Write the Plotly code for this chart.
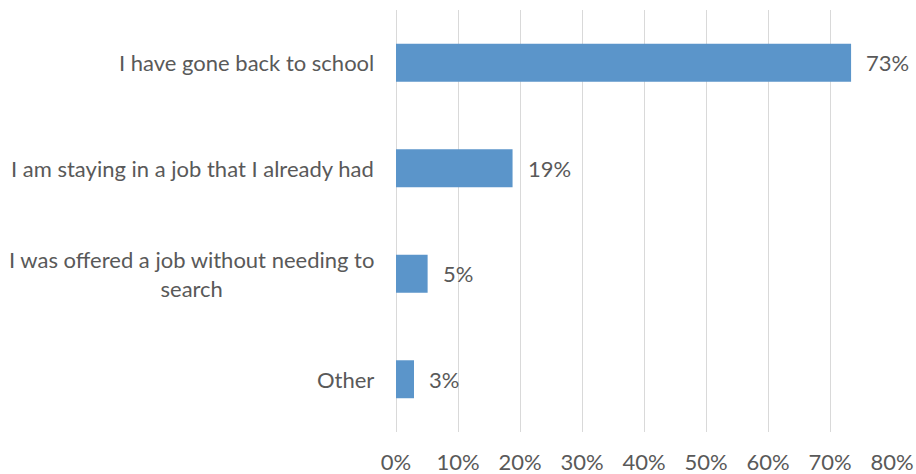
import plotly.graph_objects as go

categories = [
    "I have gone back to school",
    "I am staying in a job that I already had",
    "I was offered a job without needing to<br>search",
    "Other",
]
values = [73.4, 18.8, 5.1, 2.9]
tick_vals = [0, 10, 20, 30, 40, 50, 60, 70, 80]
tick_text = ["0%", "10%", "20%", "30%", "40%", "50%", "60%", "70%", "80%"]

font_family = "Lato, 'Open Sans', sans-serif"
text_color = "#595959"

fig = go.Figure(
    go.Bar(
        x=values,
        y=categories,
        orientation="h",
        marker=dict(color="#5B95CA", line=dict(width=0)),
        hoverinfo="skip",
    )
)

annotations = []
for c, v in zip(categories, values):
    annotations.append(dict(
        x=0, xref="paper", y=c, yref="y", text=c, showarrow=False,
        xanchor="right", yanchor="middle", align="center", xshift=-20,
        font=dict(family=font_family, size=22, color=text_color),
    ))
    annotations.append(dict(
        x=v, xref="x", y=c, yref="y", text=f"{round(v)}%", showarrow=False,
        xanchor="left", yanchor="middle", xshift=13,
        font=dict(family=font_family, size=22, color=text_color),
    ))

fig.update_layout(
    width=916, height=474,
    margin=dict(l=396, r=24, t=10, b=42, autoexpand=False),
    paper_bgcolor="white", plot_bgcolor="white",
    bargap=0.64,
    showlegend=False,
    annotations=annotations,
    xaxis=dict(
        range=[0, 80], tickvals=tick_vals, ticktext=tick_text,
        showgrid=True, gridcolor="#D9D9D9", gridwidth=1,
        zeroline=True, zerolinecolor="#D9D9D9", zerolinewidth=1,
        showline=False, ticks="outside", ticklen=11, tickcolor="white",
        tickfont=dict(family=font_family, size=22, color=text_color),
        automargin=False,
        fixedrange=True,
    ),
    yaxis=dict(
        categoryorder="array", categoryarray=categories[::-1],
        showticklabels=False, showgrid=False, zeroline=False, showline=False,
        automargin=False,
        fixedrange=True,
    ),
)

fig.write_html(
    "out.html",
    config={"displayModeBar": False},
    post_script="document.body.style.margin='0';document.body.style.overflow='hidden';",
)
